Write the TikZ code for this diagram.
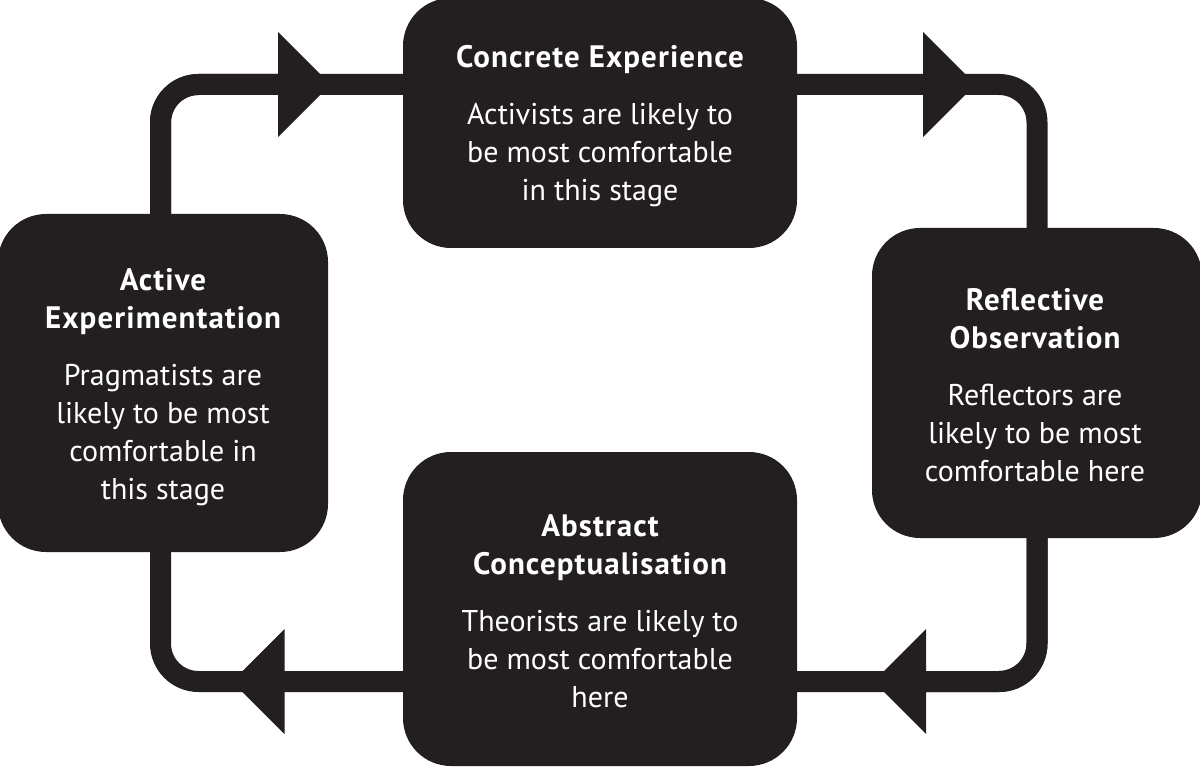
\documentclass[tikz,border=0pt]{standalone}
\usepackage{fontspec}
\setmainfont{PT Sans}
\newfontfamily\stagetitlefont[LetterSpace=3.5]{PT Sans}
\newcommand{\stagettl}[1]{{\stagetitlefont\bfseries\fontsize{31pt}{38pt}\selectfont #1}}
\usetikzlibrary{arrows.meta,backgrounds}
\definecolor{ink}{HTML}{231F20}
\begin{document}
\begin{tikzpicture}[x=1pt,y=-1pt,
  stagebox/.style={fill=ink, draw=none, rounded corners=48pt, inner sep=0pt},
  stagetext/.style={text=white, align=center, inner sep=0pt,
    font=\fontsize{30pt}{38pt}\selectfont},
  loopline/.style={draw=ink, line width=21pt, rounded corners=38pt},
  tip/.style={-{Triangle[length=52.5pt,width=105pt,line width=0pt]}}
]
\useasboundingbox (0,0) rectangle (1200,767);
% boxes
\node[stagebox, minimum width=394pt, minimum height=250pt] (ce) at (600,123) {};
\node[stagebox, minimum width=330pt, minimum height=338pt] (ae) at (163,383) {};
\node[stagebox, minimum width=330pt, minimum height=310pt] (ro) at (1037,383) {};
\node[stagebox, minimum width=394pt, minimum height=314pt] (ac) at (600,609) {};
% texts (anchored at the baseline of the last line)
\node[stagetext, anchor=base] (ceT) at (600,201) {\stagettl{Concrete Experience}\\[19pt]Activists are likely to\\be most comfortable\\in this stage};
\node[stagetext, anchor=base] (aeT) at (163,499) {\stagettl{Active}\\\stagettl{Experimentation}\\[19pt]Pragmatists are\\likely to be most\\comfortable in\\this stage};
\node[stagetext, anchor=base] (roT) at (1035,481) {\stagettl{Reflective}\\\stagettl{Observation}\\[19pt]Reflectors are\\likely to be most\\comfortable here};
\node[stagetext, anchor=base] (acT) at (600,707) {\stagettl{Abstract}\\\stagettl{Conceptualisation}\\[19pt]Theorists are likely to\\be most comfortable\\here};
% loop corners and arrow tips
\coordinate (tl) at (160.5,84.5);
\coordinate (tr) at (1037,84.5);
\coordinate (br) at (1037,681.5);
\coordinate (bl) at (160.5,681.5);
\coordinate (a1) at (330.5,84.5);
\coordinate (a2) at (975.5,84.5);
\coordinate (a3) at (873.5,681.5);
\coordinate (a4) at (232,681.5);
\begin{scope}[on background layer]
\draw[loopline] (ae.north -| tl) |- (ce.west |- tl);
\draw[loopline, tip] (ae.north -| tl) |- (a1);
\draw[loopline] (ce.east |- tr) -| (ro.north -| tr);
\draw[loopline, tip] (ce.east |- a2) -- (a2);
\draw[loopline] (ro.south -| br) |- (ac.east |- br);
\draw[loopline, tip] (ro.south -| br) |- (a3);
\draw[loopline] (ac.west |- bl) -| (ae.south -| bl);
\draw[loopline, tip] (ac.west |- bl) -- (a4);
\end{scope}
\end{tikzpicture}
\end{document}
